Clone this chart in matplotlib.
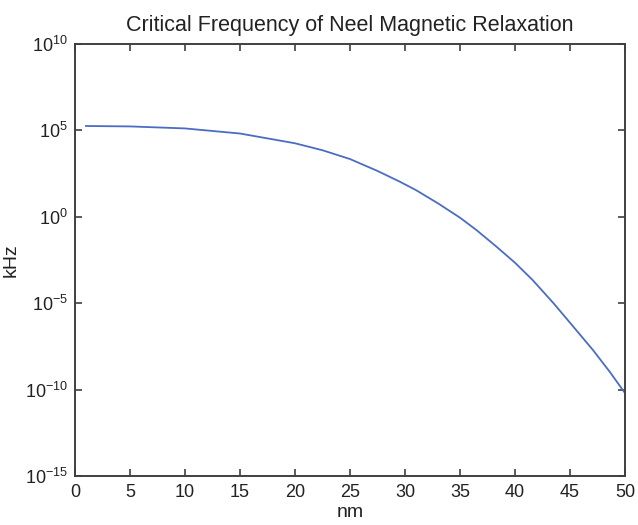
import matplotlib.pyplot as plt
from matplotlib.ticker import NullLocator

# particle size (nm) and critical frequency (kHz)
size_nm = [1, 5, 10, 15, 20, 22.5, 25, 27.5, 29.5, 31, 33, 35, 36.5, 38.3, 40,
           41.6, 43.5, 45.3, 47.1, 48.6, 50]
freq_khz = [1.8e5, 1.7e5, 1.3e5, 6.6e4, 1.8e4, 7.1e3, 2.2e3, 4.5e2, 1.1e2, 3.5e1, 6.0,
            0.89, 0.17, 1.9e-2, 2.2e-3, 2.2e-4, 1.0e-5, 4.4e-7, 1.9e-8, 1.1e-9, 6.3e-11]

xticks = [0, 5, 10, 15, 20, 25, 30, 35, 40, 45, 50]
yticks = [1e-15, 1e-10, 1e-5, 1e0, 1e5, 1e10]

plt.rcParams['font.family'] = ['Liberation Sans', 'DejaVu Sans']
plt.rcParams['mathtext.fontset'] = 'custom'
plt.rcParams['mathtext.rm'] = 'Liberation Sans'

fig = plt.figure(figsize=(6.38, 5.25), dpi=100)
ax = fig.add_axes([75 / 638, 1 - 476 / 525, 550 / 638, 432 / 525])

ax.plot(size_nm, freq_khz, color='#4a6cc4', lw=1.3)

ax.set_yscale('log')
ax.set_xlim(0, 50)
ax.set_ylim(1e-15, 1e10)
ax.set_xticks(xticks)
ax.set_yticks(yticks)
ax.yaxis.set_minor_locator(NullLocator())

ax.tick_params(direction='in', top=True, right=True, length=5, width=1.2,
               colors='#404040', labelcolor='#222222', labelsize=13)
ax.tick_params(axis='x', pad=6)
ax.tick_params(axis='y', pad=5)
for s in ax.spines.values():
    s.set_color('#404040')
    s.set_linewidth(1.4)

ax.set_title('Critical Frequency of Neel Magnetic Relaxation', fontsize=15.5, color='#222222', pad=9)
ax.set_xlabel('nm', fontsize=14, color='#222222', labelpad=2)
ax.set_ylabel('kHz', fontsize=14, color='#222222', labelpad=4)

fig.savefig('out.png', dpi=100)
